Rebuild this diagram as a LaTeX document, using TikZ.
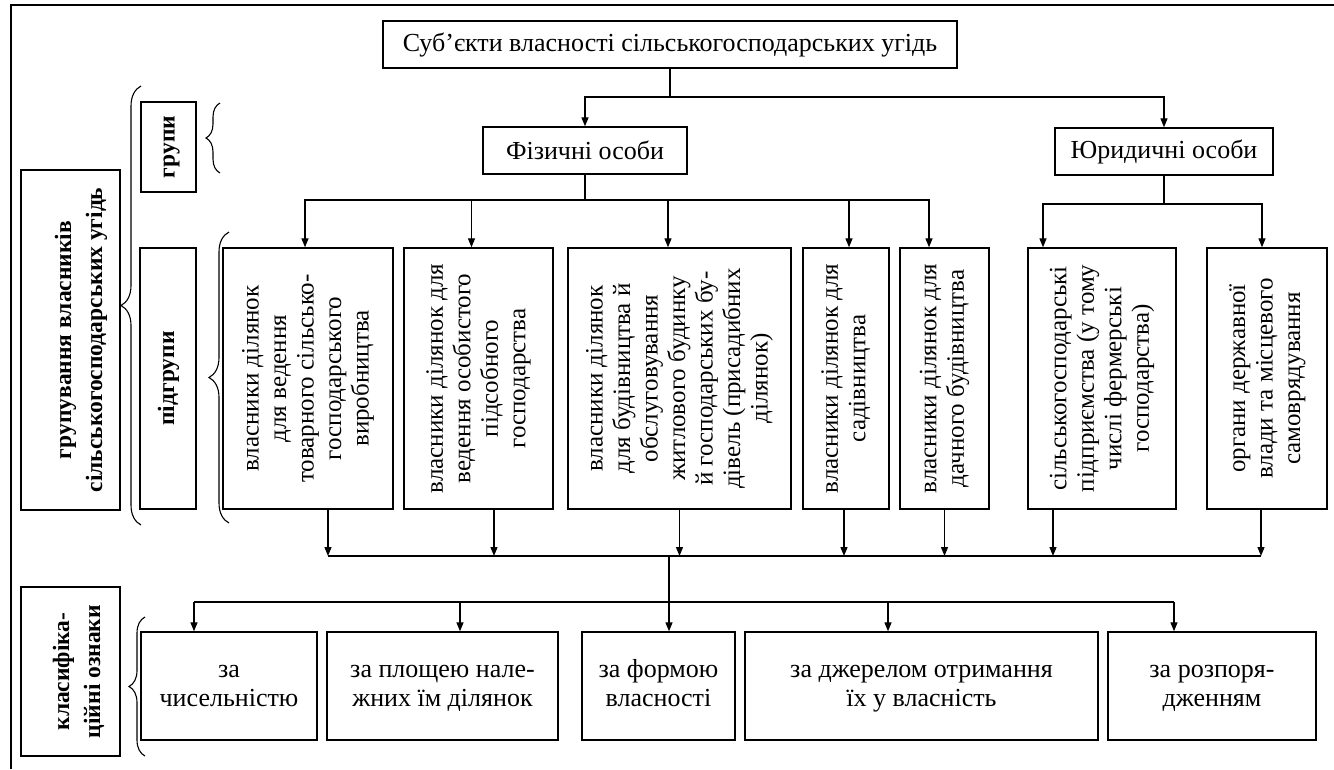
\documentclass[tikz,border=0pt]{standalone}
\usepackage{fontspec}
\usepackage{graphicx}
\setmainfont{Liberation Serif}
\usetikzlibrary{arrows.meta,decorations.pathreplacing}
\newcommand{\vtxt}[1]{\rotatebox{90}{\fontsize{25}{27.5}\selectfont\begin{tabular}{@{}c@{}}#1\end{tabular}}}
\newcommand{\vbold}[1]{\rotatebox{90}{\fontsize{23.5}{31}\selectfont\bfseries\begin{tabular}{@{}c@{}}#1\end{tabular}}}
\newcommand{\htab}[1]{\begin{tabular}{@{}c@{}}#1\end{tabular}}
\begin{document}
\begin{tikzpicture}[x=1pt,y=-1pt,
  box/.style={draw, line width=1.4pt, inner sep=0pt, align=center},
  htxt/.style={font=\fontsize{26}{29}\selectfont},
  arr/.style={line width=1.3pt, -{Triangle[length=9pt,width=7pt]}},
  ln/.style={line width=1.3pt},
  br/.style={line width=1.1pt, decorate, decoration={brace, amplitude=#1}}]
\useasboundingbox (0,0) rectangle (1334,769);
% frame
\draw[ln] (11,769) -- (11,5) -- (1334,5);

% top level
\node[box, htxt, minimum width=574pt, minimum height=47pt] (top) at (670,44.5) {Суб’єкти власності сільськогосподарських угідь};
\node[box, htxt, minimum width=204pt, minimum height=47pt] (fiz) at (585,150.5) {Фізичні особи};
\node[box, htxt, minimum width=218pt, minimum height=47pt] (yur) at (1164,151.5) {Юридичні особи};

% left labels
\node[box, minimum width=99pt, minimum height=340pt] (grp) at (70.5,340) {\hspace*{20pt}\vbold{групування власників\\сільськогосподарських угідь}};
\node[box, minimum width=55pt, minimum height=90pt] (gr) at (168.5,147) {\vbold{групи}};
\node[box, minimum width=56pt, minimum height=261pt] (pgr) at (168,378.5) {\vbold{підгрупи}};
\node[box, minimum width=99pt, minimum height=169pt] (kl) at (70.5,671.5) {\hspace*{16pt}\vbold{класифіка-\\ційні ознаки}};

% subgroup boxes
\node[box, minimum width=170pt, minimum height=261pt] (b1) at (308,378.5) {\vtxt{власники ділянок\\для ведення\\товарного сільсько-\\господарського\\виробництва}};
\node[box, minimum width=149pt, minimum height=261pt] (b2) at (478.5,378.5) {\vtxt{власники ділянок для\\ведення особистого\\підсобного\\господарства}};
\node[box, minimum width=223pt, minimum height=261pt] (b3) at (679.5,378.5) {\vtxt{власники ділянок\\для будівництва й\\обслуговування\\житлового будинку\\й господарських бу-\\дівель (присадибних\\ділянок)}};
\node[box, minimum width=86pt, minimum height=261pt] (b4) at (846,378.5) {\vtxt{власники ділянок для\\садівництва}};
\node[box, minimum width=89pt, minimum height=261pt] (b5) at (944.5,378.5) {\vtxt{власники ділянок для\\дачного будівництва}};
\node[box, minimum width=148pt, minimum height=261pt] (b6) at (1102,378.5) {\vtxt{сільськогосподарські\\підприємства (у тому\\числі фермерські\\господарства)}};
\node[box, minimum width=120pt, minimum height=261pt] (b7) at (1267,378.5) {\vtxt{органи державної\\влади та місцевого\\самоврядування}};

% bottom boxes
\node[box, htxt, minimum width=176pt, minimum height=108pt] (ca) at (229,686) {\htab{за\\чисельністю}};
\node[box, htxt, minimum width=231pt, minimum height=108pt] (cb) at (442.5,686) {\htab{за площею нале-\\жних їм ділянок}};
\node[box, htxt, minimum width=153pt, minimum height=108pt] (cc) at (658.5,686) {\htab{за формою\\власності}};
\node[box, htxt, minimum width=353pt, minimum height=108pt] (cd) at (921.5,686) {\htab{за джерелом отримання\\їх у власність}};
\node[box, htxt, minimum width=208pt, minimum height=108pt] (ce) at (1212,686) {\htab{за розпоря-\\дженням}};

% junction coordinates
\coordinate (j1) at (670,97);
\coordinate (j2) at (585,200);
\coordinate (j3) at (1164,204);
\coordinate (busL) at (328,556);
\coordinate (busR) at (1261,556);
\coordinate (bus2L) at (194,602);
\coordinate (bus2R) at (1174,602);

% top connectors
\draw[ln] (top.south) -- (j1);
\draw[arr] (j1) -| (fiz.north);
\draw[arr] (j1) -| (yur.north);

% physical persons connectors
\draw[ln] (fiz.south) -- (j2);
\draw[arr] (j2) -| ([xshift=-3pt]b1.north);
\draw[arr] (j2) -| ([xshift=-7pt]b2.north);
\draw[arr] (j2) -| ([xshift=-11.5pt]b3.north);
\draw[arr] (j2) -| ([xshift=3pt]b4.north);
\draw[arr] (j2) -| ([xshift=-15.5pt]b5.north);

% legal persons connectors
\draw[ln] (yur.south) -- (j3);
\draw[arr] (j3) -| ([xshift=-59pt]b6.north);
\draw[arr] (j3) -| ([xshift=-5pt]b7.north);

% bottom arrows to bus
\draw[ln] (busL) -- (busR);
\draw[arr] ([xshift=20pt]b1.south) -- ([xshift=20pt]b1.south |- busL);
\draw[arr] ([xshift=15.5pt]b2.south) -- ([xshift=15.5pt]b2.south |- busL);
\draw[arr] (b3.south) -- (b3.south |- busL);
\draw[arr] ([xshift=-2pt]b4.south) -- ([xshift=-2pt]b4.south |- busL);
\draw[arr] (b5.south) -- (b5.south |- busL);
\draw[arr] ([xshift=-49pt]b6.south) -- ([xshift=-49pt]b6.south |- busL);
\draw[arr] ([xshift=-6pt]b7.south) -- ([xshift=-6pt]b7.south |- busL);

% drop to classification
\draw[arr] ([xshift=10.5pt]cc.north |- busL) -- ([xshift=10.5pt]cc.north);
\draw[ln] (bus2L) -- (bus2R);
\draw[arr] (bus2L) -- ([xshift=-35pt]ca.north);
\draw[arr] ([xshift=17.5pt]cb.north |- bus2L) -- ([xshift=17.5pt]cb.north);
\draw[arr] ([xshift=-33.5pt]cd.north |- bus2L) -- ([xshift=-33.5pt]cd.north);
\draw[arr] (bus2R) -- ([xshift=-38pt]ce.north);

% braces
\draw[br=20pt] (141,525) -- (141,86);
\draw[br=14pt] (220,173) -- (220,103);
\draw[br=20pt] (229,523) -- (229,232);
\draw[br=16pt] (145,756) -- (145,617);
\end{tikzpicture}
\end{document}
